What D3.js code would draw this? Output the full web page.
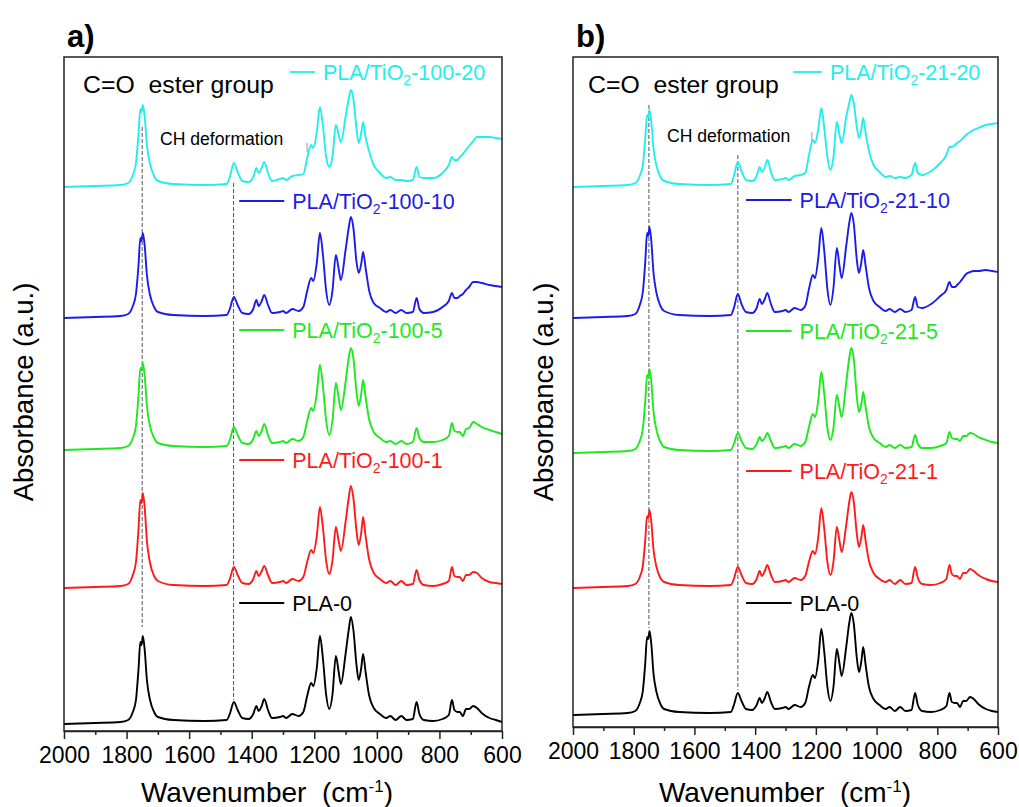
<!DOCTYPE html>
<html>
<head>
<meta charset="utf-8">
<script src="https://cdn.jsdelivr.net/npm/d3@7"></script>
<style>
  body { margin: 0; background: #fff; }
  text { font-family: "Liberation Sans", Arial, sans-serif; }
</style>
</head>
<body>
<svg id="chart"></svg>
<script>
// wavenumber grid (cm-1), shared by every spectrum
const wavenumbers = [2000, 1900, 1820, 1795, 1780, 1770, 1762, 1756, 1752, 1748,
  1742, 1735, 1725, 1712, 1700, 1650, 1550, 1480, 1470, 1457,
  1445, 1430, 1410, 1395, 1385, 1378, 1368, 1360, 1348, 1335,
  1310, 1300, 1290, 1270, 1250, 1235, 1222, 1210, 1203, 1192,
  1182, 1172, 1162, 1152, 1142, 1131, 1122, 1115, 1100, 1090,
  1083, 1075, 1065, 1058, 1050, 1044, 1036, 1025, 1010, 990,
  970, 957, 940, 922, 905, 885, 873, 864, 850, 820,
  790, 770, 760, 752, 742, 735, 725, 715, 705, 692,
  680, 665, 640, 620, 600];

// absorbance above each trace's own baseline (units of 0.01 a.u.), panel a
const pla0A = [0,1,2,4,12,24,54,82,79,88, 74,44,24,12,7,4,3,4,10,22, 14,6,5,10,18,13,18,25,14,6,
  7,8,6,10,8,12,29,41,38,56, 88,64,29,15,29,68,52,40,70,94, 107,94,59,44,56,70,52,29,16,10,
  6,8,4,8,4,5,22,10,4,3, 5,9,24,14,12,12,8,15,15,18, 16,11,6,4,2];
const tio100_1 = [0,1,2,4,13,26,58,88,85,95, 80,47,25,12,7,3,2,3,9,21, 13,5,4,9,17,12,17,22,13,5,
  6,7,5,9,7,11,27,38,35,52, 81,59,27,14,27,61,47,37,66,90, 102,90,57,43,55,71,52,29,15,9,
  5,7,3,7,3,4,18,8,3,2, 4,7,21,12,11,11,7,13,13,16, 15,10,6,5,4];
const tio100_5 = [0,1,2,4,12,24,54,82,80,87, 74,44,24,12,7,4,3,4,10,23, 15,7,6,11,19,14,19,26,15,7,
  8,9,7,11,9,13,30,42,39,57, 85,63,29,15,29,67,52,40,68,92, 102,92,58,44,56,70,53,31,18,12,
  8,9,6,9,6,8,22,12,8,8, 10,14,27,19,18,18,14,21,22,28, 26,23,20,18,16];
const tio100_10 = [0,1,2,4,12,24,52,80,77,85, 72,43,23,11,6,3,2,3,9,21, 13,5,4,9,18,12,17,23,13,5,
  6,7,5,9,7,11,28,40,37,55, 85,62,27,13,27,63,49,38,68,90, 101,90,56,45,54,66,50,28,15,10,
  6,8,5,8,5,6,20,9,5,6, 11,17,25,20,20,22,24,28,31,36, 36,35,33,32,31];
const tio100_20 = [0,1,2,4,12,24,52,78,75,82, 70,42,23,11,6,3,2,3,10,24, 15,6,5,10,19,14,19,25,14,6,
  8,9,7,11,12,13,30,42,39,55, 80,60,30,20,30,62,52,45,70,88, 97,88,58,44,54,65,50,36,22,14,
  9,10,7,7,6,7,20,10,9,9, 14,22,30,27,27,30,33,37,41,46, 50,50,50,49,48];

// panel b
const pla0B = [0,1,2,4,12,24,52,78,76,84, 71,42,23,11,6,3,2,3,10,22, 14,6,5,10,17,12,17,23,13,6,
  7,8,6,10,8,12,29,40,37,55, 86,62,28,14,28,66,51,39,68,92, 102,91,57,43,54,68,50,28,16,10,
  6,8,4,8,4,5,22,10,4,3, 5,9,22,13,12,12,8,14,14,18, 16,11,6,4,3];
const tio21_1 = [0,1,2,4,11,22,48,72,70,78, 66,39,21,10,6,3,2,3,9,21, 13,5,4,9,17,12,17,23,13,6,
  7,8,6,10,8,12,27,37,34,51, 80,58,26,13,26,61,47,36,63,86, 96,86,54,41,51,63,47,27,15,9,
  6,8,4,8,4,5,21,10,4,3, 5,9,23,14,12,12,9,15,15,19, 17,13,9,7,6];
const tio21_5 = [0,1,2,4,12,24,52,78,76,84, 71,42,23,11,6,3,2,3,9,20, 12,5,4,9,16,12,15,20,12,5,
  6,7,5,9,7,11,27,39,36,53, 81,58,25,13,25,58,45,36,70,95, 105,94,56,41,49,61,46,26,15,10,
  6,8,5,8,5,6,18,9,5,5, 7,10,21,15,14,14,12,17,17,20, 19,16,13,11,10];
const tio21_10 = [0,1,2,4,13,26,56,85,82,91, 77,46,25,12,7,3,2,3,10,24, 14,6,5,10,19,14,19,25,14,6,
  7,8,6,10,8,12,30,43,40,60, 90,66,29,13,30,70,52,40,72,95, 105,94,58,45,56,68,52,30,17,11,
  7,9,6,9,6,8,21,11,10,14, 22,28,36,31,31,33,36,40,44,46, 47,47,48,47,46];
const tio21_20 = [0,1,2,4,11,22,48,72,70,77, 65,39,21,10,6,3,2,3,11,25, 16,7,6,11,20,15,20,27,15,7,
  8,9,7,11,12,14,33,47,44,58, 79,58,30,17,30,65,52,44,70,84, 92,84,60,49,58,69,54,36,22,15,
  10,11,9,10,9,12,24,14,12,16, 24,32,40,40,42,44,46,49,52,55, 57,59,62,63,64];

const seriesA = [pla0A, tio100_1, tio100_5, tio100_10, tio100_20];
const seriesB = [pla0B, tio21_1, tio21_5, tio21_10, tio21_20];
const namesA = ["PLA-0", "PLA/TiO|2|-100-1", "PLA/TiO|2|-100-5", "PLA/TiO|2|-100-10", "PLA/TiO|2|-100-20"];
const namesB = ["PLA-0", "PLA/TiO|2|-21-1", "PLA/TiO|2|-21-5", "PLA/TiO|2|-21-10", "PLA/TiO|2|-21-20"];
const colors = ["#000000", "#ff1a1a", "#1ee81e", "#1c1ce8", "#22eeee"];

// vertical stacking offset of each trace
const offsetsA = [7, 143, 281, 413, 544];
const offsetsB = [12, 139, 274, 409, 540];

// legend label heights (same units as the traces)
const legendYA = [128, 271, 401, 530, 659];
const legendYB = [124, 256, 396, 527, 655];

// dashed guide lines: [wavenumber, top, bottom]
const guidesA = [[1750, 604, 104], [1458, 548, 31]];
const guidesB = [[1750, 622, 99], [1457, 572, 37]];

const majorTicks = [2000, 1800, 1600, 1400, 1200, 1000, 800, 600];
const minorTicks = [1900, 1700, 1500, 1300, 1100, 900, 700];

const panels = [
  { tag: "a)", series: seriesA, names: namesA, offsets: offsetsA, legendY: legendYA, guides: guidesA,
    left: 64, right: 502, top: 57, bottom: 731, yMax: 674,
    legendX: [1440, 1296], cyanLegendX: [1278, 1198], blip: [1223, 579, 588],
    esterX: 83, chX: 160, chY: 145, yLabelX: 33, xLabelX: 267 },
  { tag: "b)", series: seriesB, names: namesB, offsets: offsetsB, legendY: legendYB, guides: guidesB,
    left: 573, right: 998, top: 57, bottom: 727, yMax: 670,
    legendX: [1430, 1280], cyanLegendX: [1275, 1180], blip: [1213, 585, 595],
    esterX: 588, chX: 667, chY: 142, yLabelX: 553, xLabelX: 785 }
];

const width = 1019;
const height = 807;

const svg = d3.select("#chart").attr("width", width).attr("height", height);

panels.forEach((p) => {
  const g = svg.append("g");

  const x = d3.scaleLinear().domain([2000, 600]).range([p.left, p.right]);
  const y = d3.scaleLinear().domain([0, p.yMax]).range([p.bottom, p.top]);

  // dashed guide lines (behind the traces)
  g.selectAll(".guide")
    .data(p.guides)
    .join("line")
    .attr("x1", (d) => x(d[0]))
    .attr("x2", (d) => x(d[0]))
    .attr("y1", (d) => y(d[1]))
    .attr("y2", (d) => y(d[2]))
    .attr("stroke", "#555")
    .attr("stroke-width", 1)
    .attr("stroke-dasharray", "4,2");

  // small stray mark next to "CH deformation"
  g.append("line")
    .attr("x1", x(p.blip[0]))
    .attr("x2", x(p.blip[0]))
    .attr("y1", y(p.blip[1]))
    .attr("y2", y(p.blip[2]))
    .attr("stroke", "#999")
    .attr("stroke-width", 1);

  // spectra
  p.series.forEach((vals, k) => {
    const line = d3
      .line()
      .x((d, i) => x(wavenumbers[i]))
      .y((d) => y(d + p.offsets[k]))
      .curve(d3.curveMonotoneX);

    g.append("path")
      .datum(vals)
      .attr("fill", "none")
      .attr("stroke", colors[k])
      .attr("stroke-width", 1.9)
      .attr("stroke-linejoin", "round")
      .attr("d", line);
  });

  // legend entries
  p.names.forEach((name, k) => {
    const lx = k === 4 ? p.cyanLegendX : p.legendX;
    const ly = y(p.legendY[k]);
    g.append("line")
      .attr("x1", x(lx[0]))
      .attr("x2", x(lx[1]))
      .attr("y1", ly)
      .attr("y2", ly)
      .attr("stroke", colors[k])
      .attr("stroke-width", 1.8);

    const parts = name.split("|");
    const t = g.append("text")
      .attr("x", x(lx[1]) + 8)
      .attr("y", ly + 7.5)
      .attr("fill", colors[k])
      .style("font-size", "21.5px");
    t.append("tspan").text(parts[0]);
    if (parts.length > 1) {
      t.append("tspan").attr("dy", 5).style("font-size", "14px").text(parts[1]);
      t.append("tspan").attr("dy", -5).text(parts[2]);
    }
  });

  // annotations
  g.append("text")
    .attr("x", p.esterX)
    .attr("y", 93)
    .style("font-size", "24.8px")
    .style("white-space", "pre")
    .text("C=O  ester group");

  g.append("text")
    .attr("x", p.chX)
    .attr("y", p.chY)
    .style("font-size", "17.6px")
    .text("CH deformation");

  // frame
  g.append("rect")
    .attr("x", p.left)
    .attr("y", p.top)
    .attr("width", p.right - p.left)
    .attr("height", p.bottom - p.top)
    .attr("fill", "none")
    .attr("stroke", "#222")
    .attr("stroke-width", 1.5);

  // x axis: major ticks with labels, minor ticks without
  const xAxis = g.append("g")
    .attr("transform", `translate(0, ${p.bottom})`)
    .call(d3.axisBottom(x).tickValues(majorTicks).tickSize(8).tickSizeOuter(0).tickPadding(8).tickFormat(d3.format("d")));
  xAxis.select(".domain").attr("stroke", "#222").attr("stroke-width", 1.5);
  xAxis.selectAll(".tick line").attr("stroke", "#222").attr("stroke-width", 1.5);
  xAxis.selectAll("text").style("font-size", "23px").attr("fill", "#000");

  const minor = g.append("g")
    .attr("transform", `translate(0, ${p.bottom})`)
    .call(d3.axisBottom(x).tickValues(minorTicks).tickSize(4).tickSizeOuter(0).tickFormat(""));
  minor.select(".domain").remove();
  minor.selectAll(".tick line").attr("stroke", "#222").attr("stroke-width", 1.5);

  // axis titles
  const xt = g.append("text")
    .attr("x", p.xLabelX)
    .attr("y", 802)
    .attr("text-anchor", "middle")
    .style("font-size", "28px")
    .style("white-space", "pre");
  xt.append("tspan").text("Wavenumber  (cm");
  xt.append("tspan").attr("dy", -10).style("font-size", "17px").text("-1");
  xt.append("tspan").attr("dy", 10).text(")");

  g.append("text")
    .attr("transform", `translate(${p.yLabelX}, ${392}) rotate(-90)`)
    .attr("text-anchor", "middle")
    .style("font-size", "27.5px")
    .text("Absorbance (a.u.)");

  // panel tag
  g.append("text")
    .attr("x", p.left + 3)
    .attr("y", 47)
    .style("font-size", "31px")
    .style("font-weight", "bold")
    .text(p.tag);
});
</script>
</body>
</html>
